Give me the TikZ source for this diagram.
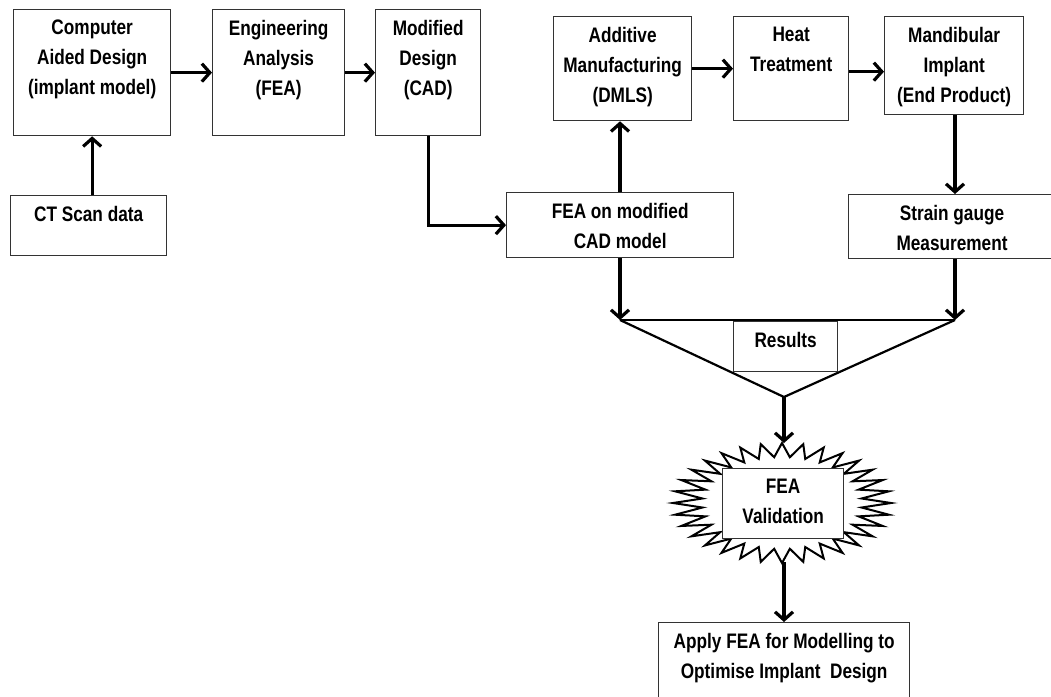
\documentclass[tikz,border=0pt]{standalone}
\usepackage{fontspec}
\setmainfont{Liberation Sans}[FakeStretch=0.82]
\usetikzlibrary{positioning, arrows.meta, calc}
\definecolor{BoxGray}{RGB}{51,51,51}

\begin{document}
\begin{tikzpicture}[x=1pt, y=-1pt,
    caja/.style={draw=BoxGray, line width=1.3pt, fill=white, anchor=north west, inner sep=0pt},
    texto/.style={font=\bfseries\fontsize{21}{30}\selectfont, align=center, anchor=north, inner sep=0pt, yshift=-11pt},
    flecha/.style={line width=3.2pt, -{Straight Barb[length=8pt, width=18pt]}},
    union/.style={line width=2.2pt, line join=miter},
    estallido/.style={line width=2pt, fill=white, line join=miter}]
                \useasboundingbox (0,0) rectangle (1051,696);

                % Nodos
                \node[caja, minimum width=157pt, minimum height=126pt] (cad) at (13,9) {};
                \node[texto] (cadT) at (cad.north) {Computer\\Aided Design\\(implant model)};
                \node[caja, minimum width=132pt, minimum height=126pt] (ea) at (212,9) {};
                \node[texto] (eaT) at (ea.north) {Engineering\\Analysis\\(FEA)};
                \node[caja, minimum width=105pt, minimum height=126pt] (mod) at (375,9) {};
                \node[texto] (modT) at (mod.north) {Modified\\Design\\(CAD)};
                \node[caja, minimum width=156pt, minimum height=60pt] (ct) at (10,195) {};
                \node[texto] (ctT) at (ct.north) {CT Scan data};

                \node[caja, minimum width=227pt, minimum height=65pt] (fea) at (506,192) {};
                \node[texto] (feaT) at (fea.north) {FEA on modified\\CAD model};
                \node[caja, minimum width=138pt, minimum height=104pt] (am) at (553,16) {};
                \node[texto] (amT) at (am.north) {Additive\\Manufacturing\\(DMLS)};
                \node[caja, minimum width=115pt, minimum height=104pt] (heat) at (733,16) {};
                \node[texto] (heatT) at (heat.north) {Heat\\Treatment};
                \node[caja, minimum width=139pt, minimum height=98pt] (mand) at (884,16) {};
                \node[texto] (mandT) at (mand.north) {Mandibular\\Implant\\(End Product)};
                \node[caja, minimum width=210pt, minimum height=64pt] (strain) at (848,194) {};
                \node[texto] (strainT) at (strain.north -| 952,0) {Strain gauge\\Measurement};

                % Union de resultados
                \coordinate (jl) at (620,320);
                \coordinate (jr) at (955,320);
                \coordinate (apex) at (784,397);
                \draw[union] (jl) -- (apex) -- (jr);
                \draw[union, line width=2.6pt] (jl) -- (jr);
                \node[caja, minimum width=104pt, minimum height=50pt] (res) at (733,321) {};
                \node[texto] (resT) at (res.north) {Results};

                % Validacion
                \coordinate (bc) at (782,503);
                \draw[estallido] ($(bc)+(0:109pt and 60pt)$)
                    \foreach \i in {0,...,31} { -- ($(bc)+({\i*11.25+5.625}:80pt and 46pt)$) -- ($(bc)+({(\i+1)*11.25}:109pt and 60pt)$) } -- cycle;
                \node[caja, minimum width=121pt, minimum height=70pt] (val) at (722,468) {};
                \node[texto] (valT) at (val.north) {FEA\\Validation};
                \coordinate (btop) at (784,443);
                \coordinate (bbot) at (784,562);

                \node[caja, minimum width=251pt, minimum height=80pt] (apply) at (658,622) {};
                \node[texto] (applyT) at (apply.north) {Apply FEA for Modelling to\\Optimise Implant\ \ Design};

                % Conexiones
                \draw[flecha] (ct.north -| cad.south) -- (cad.south);
                \draw[flecha] (cad) -- (ea);
                \draw[flecha] (ea) -- (mod);
                \draw[flecha, line join=miter] (mod.south) |- (fea.west);
                \draw[flecha] (fea.north -| jl) -- (am.south -| jl);
                \draw[flecha] (am) -- (heat);
                \draw[flecha] ([yshift=-3pt]heat.east) -- ([yshift=-3pt]heat.east -| mand.west);
                \draw[flecha] (mand.south -| jr) -- (strain.north -| jr);
                \draw[flecha] (fea.south -| jl) -- (jl);
                \draw[flecha] (strain.south -| jr) -- (jr);
                \draw[flecha] (apex) -- (btop);
                \draw[flecha] (bbot) -- (apply.north -| bbot);

            \end{tikzpicture}
\end{document}
